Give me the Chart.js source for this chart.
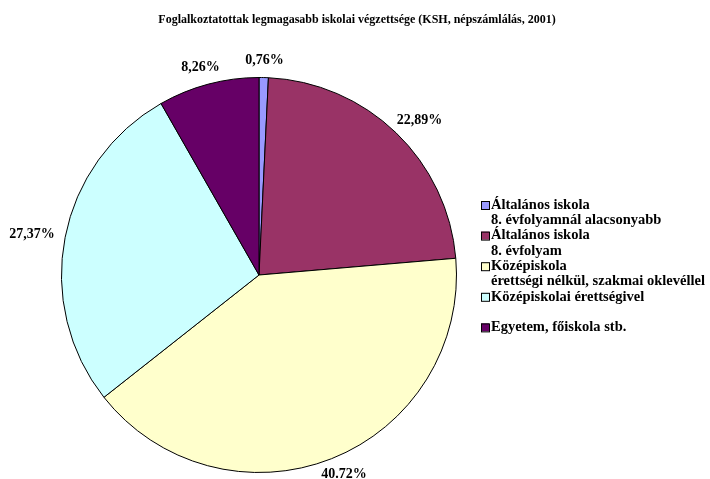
<!DOCTYPE html>
<html>
<head>
<meta charset="utf-8">
<script src="https://cdn.jsdelivr.net/npm/chart.js@4"></script>
<style>
  html, body { margin: 0; padding: 0; background: #fff; }
  #wrap { width: 710px; height: 479px; }
</style>
</head>
<body>
<div id="wrap"><canvas id="pieChart" width="710" height="479"></canvas></div>
<script>
// Foglalkoztatottak legmagasabb iskolai végzettsége (KSH, 2001)
const chartTitle = "Foglalkoztatottak legmagasabb iskolai végzettsége (KSH, népszámlálás, 2001)";
const categories = [
  ["Általános iskola", "8. évfolyamnál alacsonyabb"],
  ["Általános iskola", "8. évfolyam"],
  ["Középiskola", "érettségi nélkül, szakmai oklevéllel"],
  ["Középiskolai érettségivel", ""],
  ["Egyetem, főiskola stb."]
];
const shares = [0.76, 22.89, 40.72, 27.37, 8.26];
const shareLabels = ["0,76%", "22,89%", "40.72%", "27,37%", "8,26%"];
const sliceColors = ["#9999FF", "#993366", "#FFFFCC", "#CCFFFF", "#660066"];

const FONT = '"Liberation Serif", "Times New Roman", serif';

// címkék a szeletek mellett, a szelet középszöge mentén
const sliceLabels = {
  id: "sliceLabels",
  afterDatasetsDraw(chart) {
    const ctx = chart.ctx;
    const arcs = chart.getDatasetMeta(0).data;
    ctx.save();
    ctx.font = "bold 14px " + FONT;
    ctx.fillStyle = "#000";
    ctx.textAlign = "center";
    ctx.textBaseline = "middle";
    arcs.forEach((arc, i) => {
      const { x, y, startAngle, endAngle, outerRadius } = arc.getProps(["x", "y", "startAngle", "endAngle", "outerRadius"], true);
      const mid = (startAngle + endAngle) / 2;
      const dx = Math.cos(mid), dy = Math.sin(mid);
      const txt = shareLabels[i];
      const w = ctx.measureText(txt).width;
      const gap = 11;
      const px = x + (outerRadius + gap) * dx + dx * w / 2;
      const py = y + (outerRadius + gap) * dy + dy * 6;
      ctx.fillText(txt, px, py);
    });
    ctx.restore();
  }
};

// cím és jelmagyarázat (többsoros bejegyzések)
const titleAndLegend = {
  id: "titleAndLegend",
  afterDraw(chart) {
    const ctx = chart.ctx;
    ctx.save();
    ctx.fillStyle = "#000";
    ctx.font = "bold 12px " + FONT;
    ctx.textAlign = "center";
    ctx.textBaseline = "middle";
    ctx.fillText(chartTitle, 357, 20);

    ctx.font = "bold 14.5px " + FONT;
    ctx.textAlign = "left";
    const boxX = 481, textX = 491, lineH = 15.3;
    let lineY = 205;
    categories.forEach((lines, i) => {
      ctx.fillStyle = sliceColors[i];
      ctx.fillRect(boxX, lineY - 4, 8, 8);
      ctx.strokeStyle = "#000";
      ctx.lineWidth = 1;
      ctx.strokeRect(boxX + 0.5, lineY - 4 + 0.5, 8, 8);
      ctx.fillStyle = "#000";
      lines.forEach(l => {
        ctx.fillText(l, textX, lineY);
        lineY += lineH;
      });
    });
    ctx.restore();
  }
};

new Chart(document.getElementById("pieChart"), {
  type: "pie",
  data: {
    labels: categories.map(c => c.join(" ").trim()),
    datasets: [{
      data: shares,
      backgroundColor: sliceColors,
      borderColor: "#000",
      borderWidth: 1
    }]
  },
  options: {
    responsive: false,
    animation: false,
    devicePixelRatio: 1,
    layout: { padding: { left: 61, right: 253, top: 77, bottom: 6 } },
    plugins: {
      legend: { display: false },
      title: { display: false },
      tooltip: { enabled: false }
    }
  },
  plugins: [sliceLabels, titleAndLegend]
});
</script>
</body>
</html>
